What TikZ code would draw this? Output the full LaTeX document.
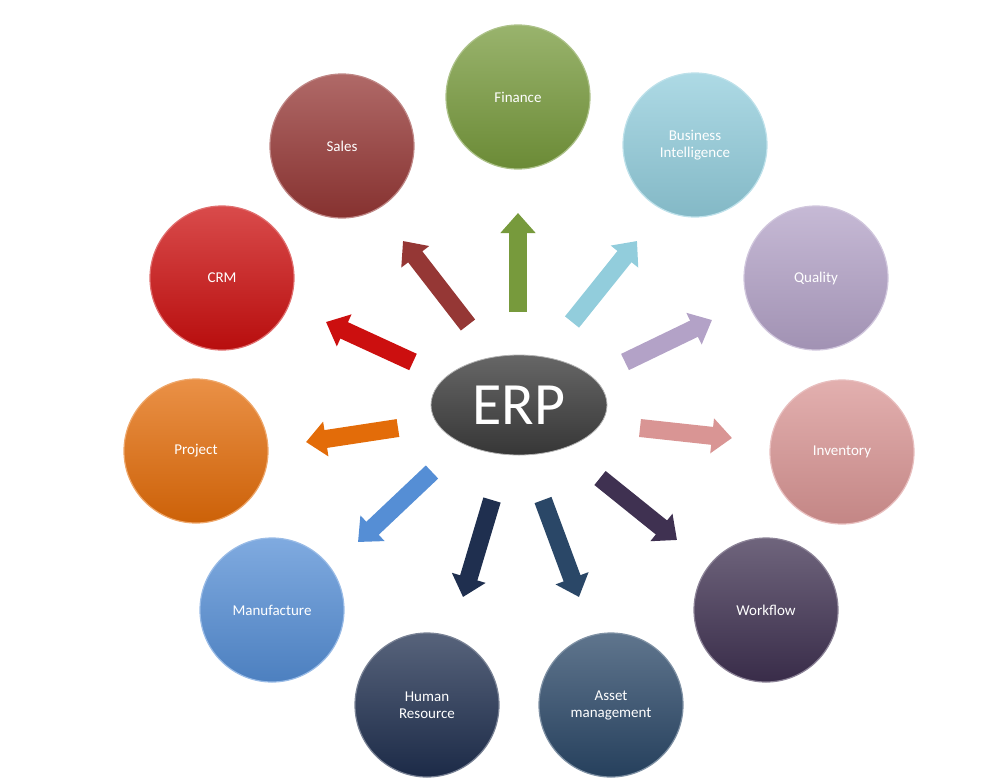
\documentclass[tikz,border=0pt]{standalone}
\usepackage{fontspec}
\setmainfont{Carlito}
\usetikzlibrary{arrows.meta,shapes.geometric}
\definecolor{cFin}{HTML}{779A3C}
\definecolor{cBI}{HTML}{92CDDC}
\definecolor{cQua}{HTML}{B3A2C7}
\definecolor{cInv}{HTML}{D99594}
\definecolor{cWor}{HTML}{3F3151}
\definecolor{cAss}{HTML}{2A4767}
\definecolor{cHR}{HTML}{1F2F4F}
\definecolor{cMan}{HTML}{558ED5}
\definecolor{cPro}{HTML}{E36C09}
\definecolor{cCRM}{HTML}{CC0F0F}
\definecolor{cSal}{HTML}{953735}
\definecolor{cERP}{HTML}{404040}
\begin{document}
\begin{tikzpicture}[x=0.5pt,y=-0.5pt,
  mod/.style={circle,minimum size=72pt,inner sep=0pt,align=center,text=white,
    font=\fontsize{7.5}{8.5}\selectfont,draw=#1!60!white,line width=0.6pt,
    top color=#1!75!white,bottom color=#1!90!black},
  arr/.style={line width=9pt,draw=#1,-{Triangle[length=10pt,width=17pt]}}]
\useasboundingbox (0,0) rectangle (1005,782);
\node[mod=cFin] (fin) at (518,97) {Finance};
\node[mod=cBI] (bi) at (695,145) {Business\\Intelligence};
\node[mod=cQua] (qua) at (816,278) {Quality};
\node[mod=cInv] (inv) at (842,452) {Inventory};
\node[mod=cWor] (wor) at (766,610) {Workflow};
\node[mod=cAss] (ass) at (611,705) {Asset\\management};
\node[mod=cHR] (hr) at (427,705) {Human\\Resource};
\node[mod=cMan] (man) at (272,610) {Manufacture};
\node[mod=cPro] (pro) at (196,451) {Project};
\node[mod=cCRM] (crm) at (222,278) {CRM};
\node[mod=cSal] (sal) at (342,146) {Sales};
\node[ellipse,minimum width=88pt,minimum height=50pt,inner sep=0pt,text=white,
  font=\fontsize{30}{32}\selectfont,top color=cERP!80!white,bottom color=cERP!85!black,
  draw=white!70!black] (erp) at (519,405) {ERP};
\foreach \n/\c/\ax/\ay/\bx/\by in {
  fin/cFin/518/312/518/213, bi/cBI/572/322/637/241, qua/cQua/625/362/712/320,
  inv/cInv/640/428/732/438, wor/cWor/600/478/677/540, ass/cAss/543/500/579/597,
  hr/cHR/492/500/463/597, man/cMan/432/472/358/542, pro/cPro/398/428/306/442,
  crm/cCRM/413/362/326/322, sal/cSal/468/325/403/241}{
  \coordinate (s\n) at (\ax,\ay);
  \coordinate (e\n) at (\bx,\by);
  \draw[arr=\c] (s\n) -- (e\n);
}
\end{tikzpicture}
\end{document}
